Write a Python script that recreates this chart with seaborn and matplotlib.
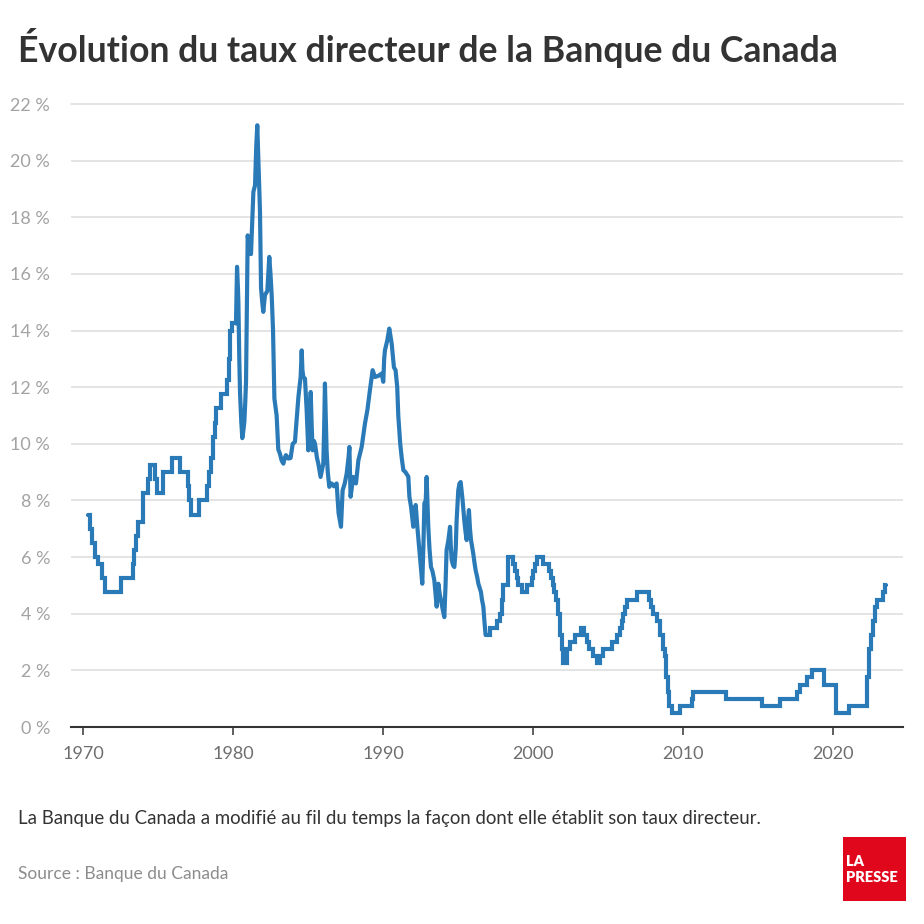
import numpy as np
import pandas as pd
import matplotlib
matplotlib.use("Agg")
import matplotlib.pyplot as plt
from matplotlib.patches import Rectangle
import seaborn as sns

# ---- Data (decimal year of change, rate in %) ----
years_fixed_1970s = [1970.36, 1970.47, 1970.58, 1970.80, 1971.02, 1971.24, 1971.47, 1972.53,
                     1973.31, 1973.40, 1973.53, 1973.69, 1973.98, 1974.36, 1974.47, 1974.80,
                     1974.96, 1975.31, 1975.91, 1976.47, 1976.98, 1977.09, 1977.20, 1977.76,
                     1978.24, 1978.40, 1978.55, 1978.70, 1978.80, 1978.90, 1979.20, 1979.62,
                     1979.72, 1979.80, 1979.96]
rates_fixed_1970s = [7.5, 7.0, 6.5, 6.0, 5.75, 5.25, 4.75, 5.25,
                     5.75, 6.25, 6.75, 7.25, 8.25, 8.75, 9.25, 8.75,
                     8.25, 9.0, 9.5, 9.0, 8.5, 8.0, 7.5, 8.0,
                     8.5, 9.0, 9.5, 10.25, 10.75, 11.25, 11.75, 12.25,
                     13.0, 14.0, 14.25]

years_floating = [1980.20, 1980.27, 1980.33, 1980.36, 1980.42, 1980.47, 1980.55, 1980.62, 1980.70,
                  1980.76, 1980.82, 1980.87, 1980.93, 1980.98, 1981.07, 1981.20, 1981.28, 1981.36,
                  1981.47, 1981.55, 1981.62, 1981.69, 1981.75, 1981.80, 1981.87, 1981.95, 1982.02,
                  1982.13, 1982.29, 1982.42, 1982.50, 1982.58, 1982.67, 1982.76, 1982.91, 1983.02,
                  1983.13, 1983.25, 1983.36, 1983.45, 1983.53, 1983.69, 1983.84, 1983.98, 1984.13,
                  1984.24, 1984.36, 1984.51, 1984.58, 1984.63, 1984.69, 1984.80, 1984.91, 1985.02,
                  1985.10, 1985.18, 1985.25, 1985.31, 1985.40, 1985.47, 1985.60, 1985.69, 1985.84,
                  1986.02, 1986.08, 1986.13, 1986.18, 1986.24, 1986.32, 1986.42, 1986.58, 1986.73,
                  1986.91, 1987.04, 1987.20, 1987.31, 1987.45, 1987.58, 1987.70, 1987.76, 1987.84,
                  1988.02, 1988.20, 1988.36, 1988.58, 1988.80, 1988.96, 1989.13, 1989.31, 1989.47,
                  1989.69, 1989.91, 1990.02, 1990.08, 1990.13, 1990.29, 1990.42, 1990.50, 1990.58,
                  1990.73, 1990.84, 1990.95, 1991.02, 1991.07, 1991.15, 1991.25, 1991.36, 1991.50,
                  1991.69, 1991.76, 1991.87, 1992.02, 1992.10, 1992.18, 1992.31, 1992.47, 1992.55,
                  1992.62, 1992.70, 1992.76, 1992.85, 1992.91, 1992.96, 1993.02, 1993.10, 1993.20,
                  1993.30, 1993.42, 1993.50, 1993.58, 1993.69, 1993.78, 1993.87, 1994.00, 1994.09,
                  1994.17, 1994.24, 1994.36, 1994.47, 1994.52, 1994.58, 1994.68, 1994.76, 1994.85,
                  1994.91, 1995.02, 1995.10, 1995.18, 1995.25, 1995.31, 1995.42, 1995.50, 1995.58,
                  1995.65, 1995.73, 1995.80, 1995.87, 1996.02, 1996.10, 1996.18, 1996.28, 1996.36,
                  1996.53, 1996.60, 1996.69, 1996.76]
rates_floating = [14.25, 16.25, 15.5, 15.0, 13.0, 11.8, 10.8, 10.2, 10.5,
                  10.8, 11.5, 12.2, 15.0, 17.36, 16.9, 16.7, 17.8, 18.9,
                  19.13, 20.5, 21.25, 20.1, 19.0, 18.2, 15.5, 15.0, 14.66,
                  15.25, 15.4, 16.6, 16.0, 15.25, 14.0, 11.6, 11.0, 9.8,
                  9.65, 9.4, 9.3, 9.5, 9.6, 9.48, 9.5, 10.0, 10.07,
                  10.84, 11.65, 12.36, 13.3, 12.6, 12.36, 12.3, 11.2, 9.77,
                  10.6, 11.83, 10.6, 9.77, 10.1, 10.0, 9.5, 9.3, 8.83,
                  9.3, 10.6, 12.13, 11.0, 9.77, 9.0, 8.48, 8.6, 8.5,
                  8.6, 7.55, 7.07, 8.36, 8.6, 8.95, 9.5, 9.89, 8.13,
                  8.83, 8.6, 9.42, 9.89, 10.72, 11.19, 11.9, 12.6, 12.36,
                  12.4, 12.48, 12.19, 13.0, 13.3, 13.66, 14.07, 13.8, 13.54,
                  12.7, 12.6, 12.0, 11.0, 10.6, 10.0, 9.5, 9.07, 9.0,
                  8.84, 8.13, 7.78, 7.07, 7.4, 7.84, 6.95, 6.0, 5.5,
                  5.06, 6.5, 7.9, 8.0, 8.83, 8.0, 7.07, 6.3, 5.65,
                  5.5, 5.19, 4.7, 4.25, 5.06, 4.7, 4.47, 4.1, 3.88,
                  5.0, 6.24, 6.6, 7.07, 6.4, 5.9, 5.7, 5.65, 6.3,
                  7.3, 8.36, 8.6, 8.65, 8.3, 8.0, 7.3, 6.9, 6.6,
                  7.2, 7.66, 7.0, 6.6, 6.12, 5.8, 5.53, 5.3, 5.06,
                  4.77, 4.5, 4.25, 3.75]

years_fixed_recent = [1996.84, 1997.13, 1997.58, 1997.82, 1997.93, 1998.02, 1998.36, 1998.69,
                      1998.80, 1998.91, 1999.00, 1999.24, 1999.58, 1999.91, 2000.02, 2000.13,
                      2000.24, 2000.69, 2001.09, 2001.18, 2001.31, 2001.40, 2001.53, 2001.69,
                      2001.80, 2001.91, 2002.02, 2002.30, 2002.47, 2002.80, 2003.18, 2003.40,
                      2003.58, 2003.76, 2004.02, 2004.24, 2004.47, 2004.69, 2005.24, 2005.62,
                      2005.80, 2005.91, 2006.02, 2006.13, 2006.24, 2006.91, 2007.76, 2007.90,
                      2008.02, 2008.24, 2008.47, 2008.64, 2008.80, 2008.90, 2009.02, 2009.10,
                      2009.24, 2009.80, 2010.58, 2010.69, 2012.87, 2015.24, 2016.47, 2017.58,
                      2017.80, 2018.24, 2018.60, 2019.40, 2020.18, 2021.07, 2022.24, 2022.30,
                      2022.40, 2022.53, 2022.64, 2022.80, 2022.96, 2023.31, 2023.47, 2023.52]
rates_fixed_recent = [3.25, 3.5, 3.75, 4.0, 4.5, 5.0, 6.0, 5.75,
                      5.5, 5.25, 5.0, 4.75, 5.0, 5.25, 5.5, 5.75,
                      6.0, 5.75, 5.5, 5.25, 5.0, 4.75, 4.5, 4.0,
                      3.25, 2.75, 2.25, 2.75, 3.0, 3.25, 3.5, 3.25,
                      3.0, 2.75, 2.5, 2.25, 2.5, 2.75, 3.0, 3.25,
                      3.5, 3.75, 4.0, 4.25, 4.5, 4.75, 4.5, 4.25,
                      4.0, 3.75, 3.25, 2.75, 2.5, 1.75, 1.25, 0.75,
                      0.5, 0.75, 1.0, 1.25, 1.0, 0.75, 1.0, 1.25,
                      1.5, 1.75, 2.0, 1.5, 0.5, 0.75, 1.25, 1.75,
                      2.75, 3.25, 3.75, 4.25, 4.5, 4.75, 5.0, 5.0]

tick_years = [1970, 1980, 1990, 2000, 2010, 2020]
tick_rates = [0, 2, 4, 6, 8, 10, 12, 14, 16, 18, 20, 22]

title = "Évolution du taux directeur de la Banque du Canada"
caption = "La Banque du Canada a modifié au fil du temps la façon dont elle établit son taux directeur."
source = "Source : Banque du Canada"

# ---- Build the frames (fixed-rate eras drawn as steps, floating era as a line) ----
df_70s = pd.DataFrame({"annee": years_fixed_1970s + [years_floating[0]],
                       "taux": rates_fixed_1970s + [rates_floating[0]]})
df_float = pd.DataFrame({"annee": years_floating + [years_fixed_recent[0]],
                         "taux": rates_floating + [rates_fixed_recent[0]]})
df_recent = pd.DataFrame({"annee": years_fixed_recent, "taux": rates_fixed_recent})

sns.set_theme(style="white")
plt.rcParams["font.family"] = ["Lato", "DejaVu Sans"]

W = 924
fig = plt.figure(figsize=(9.24, 9.24), dpi=100)
ax = fig.add_axes([71 / W, 1 - 727 / W, (903 - 71) / W, (727 - 104) / W])

LINE = dict(ax=ax, estimator=None, sort=False, color="#2a7ab8", linewidth=3.0, zorder=3)
sns.lineplot(data=df_70s, x="annee", y="taux", drawstyle="steps-post",
             solid_joinstyle="miter", **LINE)
sns.lineplot(data=df_float, x="annee", y="taux", solid_joinstyle="round", **LINE)
sns.lineplot(data=df_recent, x="annee", y="taux", drawstyle="steps-post",
             solid_joinstyle="miter", **LINE)

ax.set_xlim(1969.2, 2024.67)
ax.set_ylim(0, 22)
ax.set_xticks(tick_years)
ax.set_xticklabels([str(y) for y in tick_years])
ax.set_yticks(tick_rates)
ax.set_yticklabels([f"{r} %" for r in tick_rates])
ax.set_xlabel("")
ax.set_ylabel("")

ax.grid(axis="y", color="#e2e2e2", linewidth=1.3, zorder=0)
ax.grid(axis="x", visible=False)
for s in ["top", "right", "left"]:
    ax.spines[s].set_visible(False)
ax.spines["bottom"].set_color("#333333")
ax.spines["bottom"].set_linewidth(1.5)
ax.spines["bottom"].set_zorder(4)

ax.tick_params(axis="x", bottom=True, length=6, width=1.1, color="#333333",
               labelsize=13, labelcolor="#6e6e6e", pad=8)
ax.tick_params(axis="y", left=False, labelsize=13, labelcolor="#a3a3a3", pad=9)
ax.get_ygridlines()[-1].set_clip_on(False)

# ---- Texts ----
fig.text(18 / W, 1 - 62 / W, title, fontsize=25.7, fontweight="bold", color="#333333",
         ha="left", va="baseline")
fig.text(18 / W, 1 - 824 / W, caption, fontsize=13.4, color="#333333",
         ha="left", va="baseline")
fig.text(18 / W, 1 - 879 / W, source, fontsize=12.5, color="#8c8c8c",
         ha="left", va="baseline")

# ---- Logo ----
logo = Rectangle((843 / W, 1 - 901 / W), 63 / W, 64 / W, transform=fig.transFigure,
                 facecolor="#e0061c", edgecolor="none")
fig.add_artist(logo)
fig.text(846 / W, 1 - 866 / W, "LA", fontsize=10.5, fontweight="heavy", color="white",
         ha="left", va="baseline")
fig.text(846 / W, 1 - 882 / W, "PRESSE", fontsize=10.5, fontweight="heavy", color="white",
         ha="left", va="baseline")

fig.savefig("out.png", dpi=100, facecolor="white")
